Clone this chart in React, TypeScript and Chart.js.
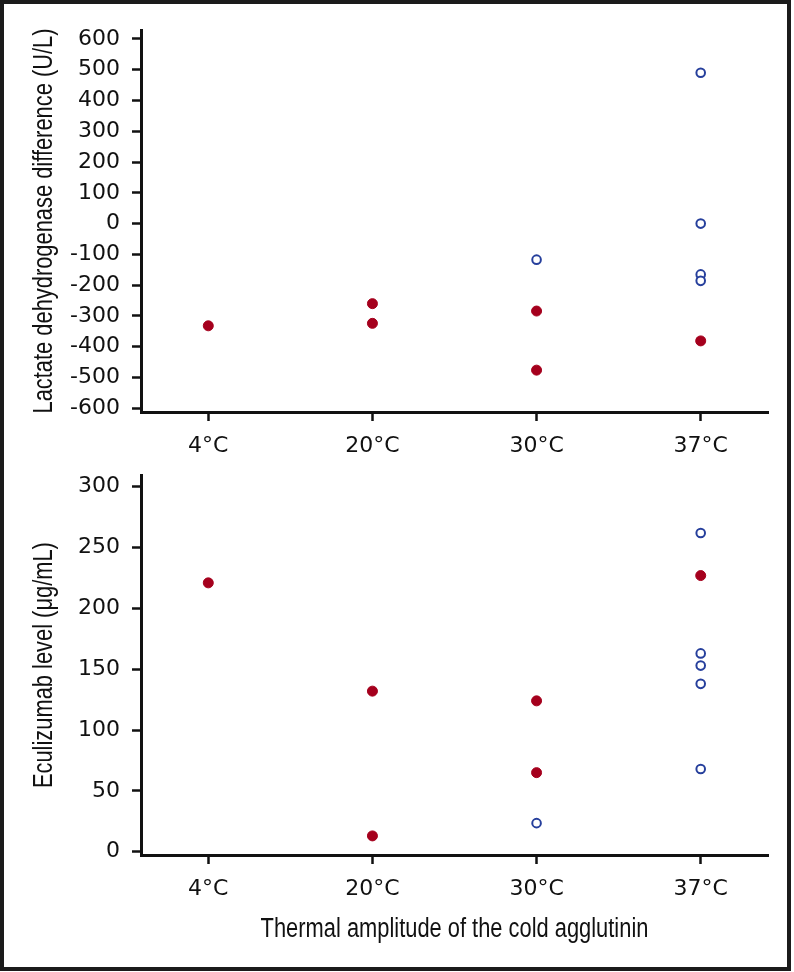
import React, { useEffect, useRef } from 'react';
import { Chart, registerables } from 'chart.js';

Chart.register(...registerables);

// ---- data ----
const categories = ['4°C', '20°C', '30°C', '37°C'];
const categoryIndex = [0, 1, 2, 3];

const ldhTicks = [-600, -500, -400, -300, -200, -100, 0, 100, 200, 300, 400, 500, 600];
const ldhFilledX = [0, 1, 1, 2, 2, 3];
const ldhFilledY = [-332, -260, -324, -284, -476, -381];
const ldhOpenX = [2, 3, 3, 3, 3];
const ldhOpenY = [-117, 490, 0, -165, -186];

const eculTicks = [0, 50, 100, 150, 200, 250, 300];
const eculFilledX = [0, 1, 1, 2, 2, 3];
const eculFilledY = [221, 132, 13, 124, 65, 227];
const eculOpenX = [2, 3, 3, 3, 3, 3];
const eculOpenY = [23.5, 262, 163, 153, 138, 68];

const ldhTitle = 'Lactate dehydrogenase difference (U/L)';
const eculTitle = 'Eculizumab level (μg/mL)';
const xTitle = 'Thermal amplitude of the cold agglutinin';

// ---- styles ----
const RED = '#a5001d';
const BLUE = '#263f9c';
const INK = '#111111';
const TICK_FONT = { family: '"DejaVu Sans", Arial, sans-serif', size: 22 };

const titlesPlugin = {
  id: 'condensedTitles',
  afterDraw(chart: any, _args: any, opts: any) {
    const { ctx, chartArea } = chart;
    ctx.save();
    ctx.fillStyle = opts.color;
    ctx.font = `${opts.size}px ${opts.family}`;
    ctx.textAlign = 'center';
    ctx.textBaseline = 'alphabetic';
    if (opts.yText) {
      ctx.save();
      ctx.translate(chartArea.left - opts.yOffset, (chartArea.top + chartArea.bottom) / 2);
      ctx.rotate(-Math.PI / 2);
      ctx.scale(opts.condense, 1);
      ctx.fillText(opts.yText, 0, 0);
      ctx.restore();
    }
    if (opts.xText) {
      ctx.save();
      ctx.translate((chartArea.left + chartArea.right) / 2, chartArea.bottom + opts.xOffset);
      ctx.scale(opts.condense, 1);
      ctx.fillText(opts.xText, 0, 0);
      ctx.restore();
    }
    ctx.restore();
  },
};

function pts(xs: number[], ys: number[]) {
  return xs.map((x, i) => ({ x, y: ys[i] }));
}

function makeConfig(p: {
  filledX: number[]; filledY: number[]; openX: number[]; openY: number[];
  ticks: number[]; min: number; max: number; yTitle: string; xTitleText?: string;
  padTop: number; xAxisHeight: number;
}): any {
  const axisCommon = {
    grid: { display: true, drawOnChartArea: false, drawTicks: true, tickLength: 9, tickWidth: 2.5, tickColor: INK },
    border: { display: true, color: INK, width: 3 },
  };
  return {
    type: 'scatter',
    data: {
      datasets: [
        {
          data: pts(p.filledX, p.filledY),
          pointRadius: 5,
          pointBackgroundColor: RED,
          pointBorderColor: RED,
          pointBorderWidth: 1,
          showLine: false,
        },
        {
          data: pts(p.openX, p.openY),
          pointRadius: 4.3,
          pointBackgroundColor: '#ffffff',
          pointBorderColor: BLUE,
          pointBorderWidth: 2,
          showLine: false,
        },
      ],
    },
    options: {
      responsive: false,
      animation: false,
      events: [],
      layout: { padding: { top: p.padTop, right: 26, left: 0, bottom: 0 } },
      plugins: {
        legend: { display: false },
        tooltip: { enabled: false },
        condensedTitles: {
          yText: p.yTitle,
          xText: p.xTitleText,
          yOffset: 89,
          xOffset: 82,
          size: 27,
          family: '"Liberation Sans", Arial, sans-serif',
          condense: 0.81,
          color: INK,
        },
      },
      scales: {
        x: {
          type: 'linear',
          min: -0.41,
          max: 3.41,
          afterBuildTicks: (s: any) => { s.ticks = categoryIndex.map((v) => ({ value: v })); },
          afterFit: (s: any) => { s.height = p.xAxisHeight; },
          ticks: {
            autoSkip: false,
            maxRotation: 0,
            padding: 12,
            color: INK,
            font: TICK_FONT,
            callback: (_v: any, i: number) => categories[i],
          },
          ...axisCommon,
        },
        y: {
          type: 'linear',
          min: p.min,
          max: p.max,
          afterBuildTicks: (s: any) => { s.ticks = p.ticks.map((v) => ({ value: v })); },
          afterFit: (s: any) => { s.width = 141; },
          ticks: {
            padding: 12,
            color: INK,
            font: TICK_FONT,
            callback: (v: any) => String(v),
          },
          ...axisCommon,
        },
      },
    },
    plugins: [titlesPlugin],
  };
}

export default function App() {
  const topRef = useRef<HTMLCanvasElement>(null);
  const botRef = useRef<HTMLCanvasElement>(null);

  useEffect(() => {
    const c1 = new Chart(topRef.current as HTMLCanvasElement, makeConfig({
      filledX: ldhFilledX, filledY: ldhFilledY, openX: ldhOpenX, openY: ldhOpenY,
      ticks: ldhTicks, min: -612, max: 629, yTitle: ldhTitle,
      padTop: 30, xAxisHeight: 58,
    }));
    const c2 = new Chart(botRef.current as HTMLCanvasElement, makeConfig({
      filledX: eculFilledX, filledY: eculFilledY, openX: eculOpenX, openY: eculOpenY,
      ticks: eculTicks, min: -2.7, max: 309.5, yTitle: eculTitle, xTitleText: xTitle,
      padTop: 23, xAxisHeight: 117,
    }));
    return () => { c1.destroy(); c2.destroy(); };
  }, []);

  return (
    <div style={{ position: 'absolute', left: 0, top: 0, width: 794, height: 972, background: '#ffffff', overflow: 'hidden' }}>
      <div style={{ position: 'absolute', left: 0, top: 0, width: 791, height: 971, border: '4px solid #1b1b1b', boxSizing: 'border-box' }} />
      <canvas ref={topRef} width={794} height={470} style={{ position: 'absolute', left: 0, top: 0 }} />
      <canvas ref={botRef} width={794} height={522} style={{ position: 'absolute', left: 0, top: 450 }} />
    </div>
  );
}
